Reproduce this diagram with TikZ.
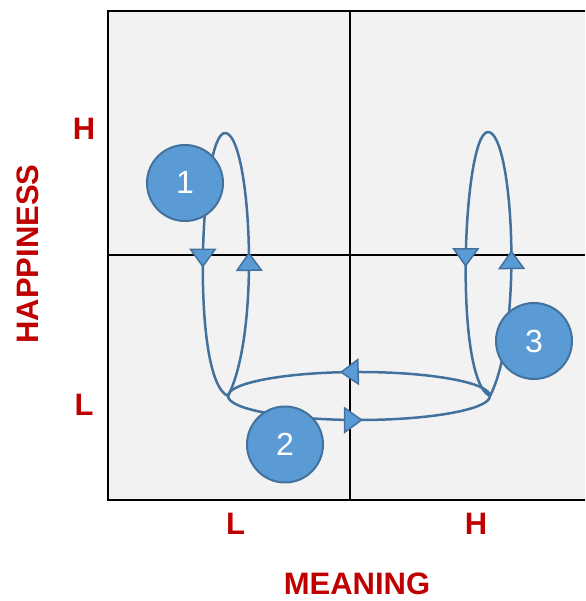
\documentclass[tikz,border=0pt]{standalone}
\usepackage{fontspec}
\setmainfont{Liberation Sans}
\usepackage{xcolor}
\usetikzlibrary{arrows.meta,decorations.markings}
\definecolor{lbl}{HTML}{C00000}
\definecolor{ball}{HTML}{5B9BD5}
\definecolor{edge}{HTML}{41719C}
\definecolor{pane}{HTML}{F2F2F2}

\begin{document}
\begin{tikzpicture}[x=1pt,y=1pt,
  axlbl/.style={text=lbl,font=\bfseries\fontsize{31}{31}\selectfont,inner sep=0pt},
  stage/.style={circle,draw=edge,line width=2pt,fill=ball,minimum size=76pt,inner sep=0pt,text=white,font=\fontsize{32}{32}\selectfont},
  divider/.style={line width=2pt,black},
  route/.style={color=edge,line width=2.5pt},
  tipat/.style={postaction={decorate},decoration={markings,mark=at position #1 with {\arrow{Triangle[length=19pt,width=27pt,fill=ball,line width=1.5pt]}}}}]
  \useasboundingbox (0,0) rectangle (585,601);
  % quadrants
  \fill[pane] (108,101) rectangle (585,590);
  \draw[divider] (585,590) -- (108,590) -- (108,101) -- (585,101);
  \draw[divider] (350,590) -- (350,101);
  \draw[divider] (108,346) -- (585,346);
  % axis labels
  \node[axlbl] (hiH) at (84,472) {H};
  \node[axlbl] (hiL) at (84,196) {L};
  \node[axlbl] (meL) at (235.5,77.5) {L};
  \node[axlbl] (meH) at (476,77.5) {H};
  \node[axlbl] (mean) at (357,17) {MEANING};
  \node[axlbl,rotate=90] (happy) at (28,347) {HAPPINESS};
  % junctions and tops of the loops
  \coordinate (jl) at (228,205);
  \coordinate (jr) at (490,205);
  \coordinate (tl) at (225,468);
  \coordinate (tr) at (488,469);
  % left loop
  \draw[route,tipat=0.54] (jl) .. controls (262,271) and (250,468) .. (tl);
  \draw[route,tipat=0.51] (tl) .. controls (200,468) and (190,221) .. (jl);
  % right loop
  \draw[route,tipat=0.545] (jr) .. controls (524,271) and (513,469) .. (tr);
  \draw[route,tipat=0.51] (tr) .. controls (463,469) and (453,221) .. (jr);
  % bottom loop
  \draw[route,tipat=0.57] (jr) arc[start angle=0,end angle=180,x radius=131,y radius=24];
  \draw[route,tipat=0.514] (jl) arc[start angle=180,end angle=360,x radius=131,y radius=24];
  % stages
  \node[stage] (s1) at (185,418) {1};
  \node[stage] (s2) at (285,156.5) {2};
  \node[stage] (s3) at (534,260) {3};
\end{tikzpicture}
\end{document}
